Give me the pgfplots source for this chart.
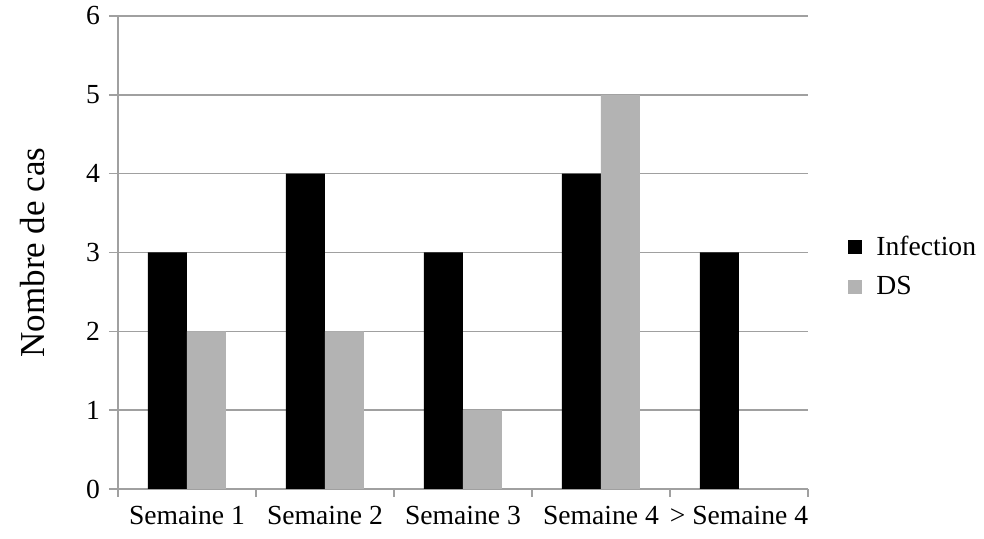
\documentclass[border=0pt]{standalone}
\usepackage{pgfplots}
\pgfplotsset{compat=1.18}
\usepackage{fontspec}
\setmainfont{Liberation Serif}
\definecolor{gridc}{RGB}{160,160,160}
\definecolor{dsgray}{RGB}{179,179,179}
\begin{document}
\begin{tikzpicture}
\begin{axis}[
  scale only axis,
  width=345pt, height=236.5pt,
  ybar=0pt, bar width=19.5pt,
  xmin=-0.5, xmax=4.5,
  ymin=0, ymax=6,
  ytick={0,1,...,6},
  xtick={0,1,2,3,4},
  xticklabels={Semaine 1,Semaine 2,Semaine 3,Semaine 4,> Semaine 4},
  minor xtick={-0.5,0.5,1.5,2.5,3.5,4.5},
  major x tick style={draw=none},
  minor x tick style={gridc, line width=0.8pt},
  minor tick length=4pt,
  major tick length=4.5pt,
  tick align=outside,
  axis x line*=bottom, axis y line*=left,
  axis line style={gridc, line width=0.8pt, -},
  y tick style={gridc, line width=0.8pt},
  ymajorgrids, grid style={gridc, line width=0.8pt},
  tick label style={font=\fontsize{13.8}{15}\selectfont},
  /pgf/number format/assume math mode=true,
  yticklabel style={xshift=-1pt},
  xticklabel style={yshift=-0.5pt},
  ylabel={Nombre de cas},
  ylabel style={font=\fontsize{17.5}{19}\selectfont},
  ylabel shift=14pt,
  legend style={at={(rel axis cs:1.058,0.47)}, anchor=west, draw=none, fill=none,
    font=\fontsize{13.8}{15}\selectfont, row sep=5pt, inner sep=0pt,
    /tikz/every even column/.append style={column sep=0pt}},
  legend image code/.code={\fill[#1] (0pt,-3.5pt) rectangle (7pt,3.5pt); \path (12pt,0);},
  legend cell align=left,
  clip=false,
]
\addplot[fill=black, draw=none] coordinates {(0,3) (1,4) (2,3) (3,4) (4,3)};
\addplot[fill=dsgray, draw=none] coordinates {(0,2) (1,2) (2,1) (3,5) (4,0)};
\legend{Infection,DS}
\coordinate (O) at (rel axis cs:0,0);
\end{axis}
\path (O) ++(-59pt,-25pt) rectangle ++(492pt,269.5pt);
\end{tikzpicture}
\end{document}
